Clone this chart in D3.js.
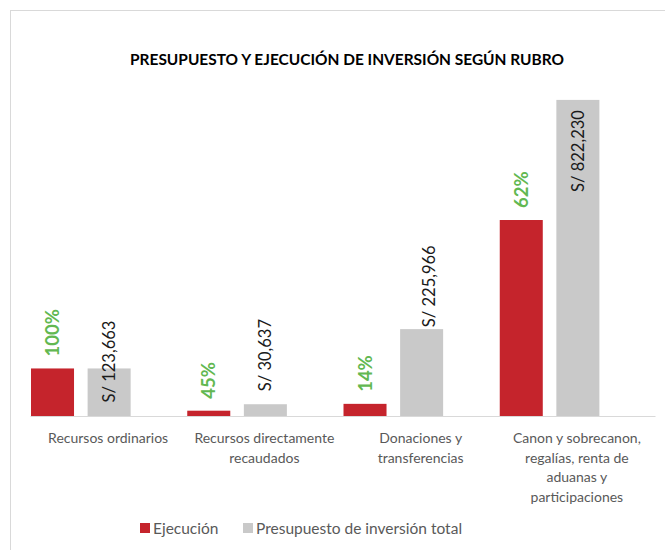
<!DOCTYPE html>
<html lang="es">
    <head>
        <meta charset="utf-8">
        <title>presupuesto</title>
        <script src="https://cdn.jsdelivr.net/npm/d3@7"></script>
        <style>
            body { margin: 0; background: #fff; }
            text { font-family: Lato, "Open Sans", sans-serif; }
        </style>
    </head>
    <body>
        <div id="graph"></div>
    </body>
    <script>
        // datos
        const rubros = [
            ["Recursos ordinarios"],
            ["Recursos directamente", "recaudados"],
            ["Donaciones y", "transferencias"],
            ["Canon y sobrecanon,", "regalías, renta de", "aduanas y", "participaciones"]
        ];
        const ejecucion = [123663, 13800, 31600, 509800];
        const presupuesto = [123663, 30637, 225966, 822230];
        const porcentajes = ["100%", "45%", "14%", "62%"];
        const presLabels = ["S/ 123,663", "S/ 30,637", "S/ 225,966", "S/ 822,230"];
        const series = ["Ejecución", "Presupuesto de inversión total"];

        // ajustes manuales de las etiquetas grises (como en el original)
        const presLabelDy = [34, -13, -2, 92];
        const presLabelDx = [0, 0, 7, 0];

        var w = 665, h = 550;
        var svg = d3.select("#graph").append("svg").attr("width", w).attr("height", h);

        // marco
        svg.append("rect")
            .attr("x", 10.5).attr("y", 10.5)
            .attr("width", 700).attr("height", 600)
            .attr("fill", "none").attr("stroke", "#d9d9d9");

        svg.append("text")
            .attr("x", 347).attr("y", 65)
            .attr("text-anchor", "middle")
            .attr("font-size", 15).attr("font-weight", "bold")
            .attr("fill", "#000")
            .attr("textLength", 434).attr("lengthAdjust", "spacingAndGlyphs")
            .text("PRESUPUESTO Y EJECUCIÓN DE INVERSIÓN SEGÚN RUBRO");

        var color = {"Ejecución": "#c5242c", "Presupuesto de inversión total": "#c9c9c9"};

        var idx = d3.range(rubros.length);
        var x0 = d3.scaleBand().domain(idx).range([30, 655]).paddingInner(0).paddingOuter(0);
        // tercer hueco vacio, como en el grafico de excel
        var x1 = d3.scaleBand().domain([series[0], series[1], "_"]).range([0, x0.bandwidth()]).paddingInner(0.24);
        var y = d3.scaleLinear().domain([0, 900000]).range([416, 70]);

        var groups = svg.selectAll("g.rubro")
            .data(idx)
            .enter().append("g")
            .attr("class", "rubro")
            .attr("transform", i => "translate(" + x0(i) + ",0)");

        groups.append("rect")
            .attr("x", x1(series[0]) + 1)
            .attr("width", x1.bandwidth())
            .attr("y", i => y(ejecucion[i]))
            .attr("height", i => y(0) - y(ejecucion[i]))
            .attr("fill", color[series[0]]);

        groups.append("rect")
            .attr("x", x1(series[1]) + 1)
            .attr("width", x1.bandwidth())
            .attr("y", i => y(presupuesto[i]))
            .attr("height", i => y(0) - y(presupuesto[i]))
            .attr("fill", color[series[1]]);

        // porcentajes en verde
        groups.append("text")
            .attr("transform", i => "translate(" + (x1(series[0]) + 1 + x1.bandwidth() / 2) + "," + (y(ejecucion[i]) - 12) + ") rotate(-90)")
            .attr("dy", "0.36em")
            .attr("font-size", 18.5).attr("font-weight", "bold")
            .attr("fill", "#62b851")
            .text(i => porcentajes[i]);

        // montos del presupuesto
        groups.append("text")
            .attr("transform", i => "translate(" + (x1(series[1]) + 1 + x1.bandwidth() / 2 + presLabelDx[i]) + "," + (y(presupuesto[i]) + presLabelDy[i]) + ") rotate(-90)")
            .attr("dy", "0.36em")
            .attr("font-size", 16.5)
            .attr("fill", "#1a1a1a")
            .text(i => presLabels[i]);

        // eje
        var axis = svg.append("g")
            .attr("transform", "translate(0," + y(0) + ")")
            .call(d3.axisBottom(x0).tickSize(0).tickFormat(""));
        axis.select(".domain").attr("stroke", "#d9d9d9");

        var lab = svg.selectAll("text.cat")
            .data(idx)
            .enter().append("text")
            .attr("class", "cat")
            .attr("text-anchor", "middle")
            .attr("font-size", 14)
            .attr("fill", "#595959")
            .attr("x", i => x0(i) + x0.bandwidth() / 2)
            .attr("y", 443);
        lab.selectAll("tspan")
            .data(i => rubros[i].map(t => [i, t]))
            .enter().append("tspan")
            .attr("x", d => x0(d[0]) + x0.bandwidth() / 2)
            .attr("dy", (d, j) => j == 0 ? 0 : 19.5)
            .text(d => d[1]);

        // leyenda
        var legX = [140, 243];
        var leg = svg.selectAll("g.leg")
            .data(series)
            .enter().append("g")
            .attr("class", "leg")
            .attr("transform", (d, i) => "translate(" + legX[i] + ",523)");
        leg.append("rect").attr("width", 10).attr("height", 10).attr("fill", d => color[d]);
        leg.append("text")
            .attr("x", 13).attr("y", 10.5)
            .attr("font-size", 15.5)
            .attr("fill", "#595959")
            .text(d => d);
    </script>
</html>
